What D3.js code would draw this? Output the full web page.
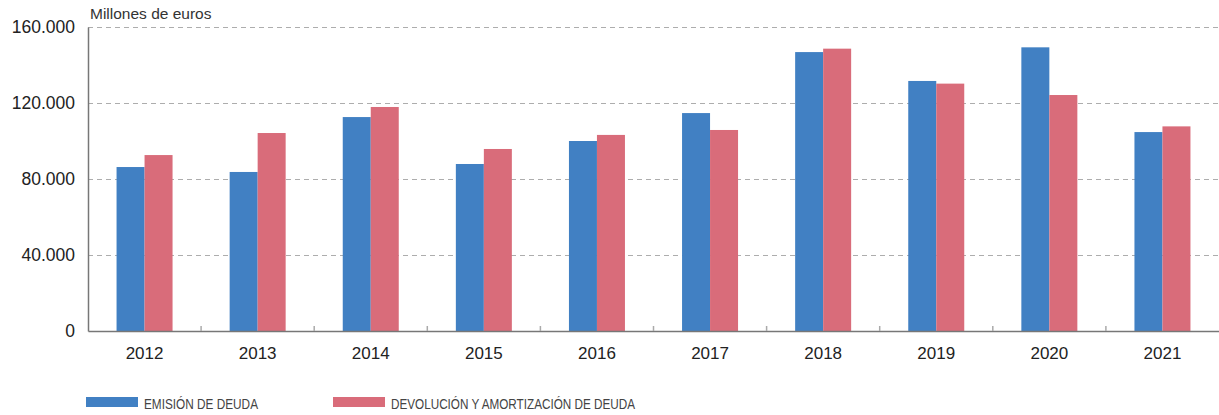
<!DOCTYPE html>
<html>
<head>
<meta charset="utf-8">
<script src="https://cdn.jsdelivr.net/npm/d3@7"></script>
<style>
  body { margin: 0; background: #fff; }
  svg { display: block; }
</style>
</head>
<body>
<div id="graph-container"></div>
<script>
const years = ["2012", "2013", "2014", "2015", "2016", "2017", "2018", "2019", "2020", "2021"];
const emision = [86300, 83700, 112600, 87900, 100000, 114700, 146800, 131600, 149300, 104700];
const devolucion = [92600, 104200, 117900, 95800, 103200, 105800, 148600, 130200, 124200, 107700];
const seriesNames = ["EMISIÓN DE DEUDA", "DEVOLUCIÓN Y AMORTIZACIÓN DE DEUDA"];
const seriesColors = ["#4180c3", "#d96c7a"];
const yTicks = [0, 40000, 80000, 120000, 160000];

const width = 1219;
const height = 415;
const marginTop = 27;
const marginRight = 0;
const marginBottom = 84;
const marginLeft = 88;

const svg = d3.select("#graph-container").append("svg")
    .attr("width", width)
    .attr("height", height)
    .attr("style", "font-family: 'Liberation Sans', Arial, sans-serif;");

const x = d3.scaleBand()
    .domain(years)
    .range([marginLeft, width - marginRight]);

const y = d3.scaleLinear()
    .domain([0, 160000])
    .range([height - marginBottom, marginTop]);

const fmt = d => d === 0 ? "0" : d3.format(",")(d).replace(/,/g, ".");

// Grid
svg.append("g")
    .selectAll("line")
    .data(yTicks.filter(d => d > 0))
    .join("line")
    .attr("x1", marginLeft)
    .attr("x2", width - marginRight)
    .attr("y1", d => y(d) + 0.5)
    .attr("y2", d => y(d) + 0.5)
    .attr("stroke", "#adadad")
    .attr("stroke-width", 1)
    .attr("stroke-dasharray", "5,4");

// Bars
const barW = 28;
const groups = svg.append("g")
    .selectAll("g")
    .data(years)
    .join("g")
    .attr("transform", d => `translate(${x(d) + x.bandwidth() / 2 - barW},0)`);

[emision, devolucion].forEach((vals, k) => {
    groups.append("rect")
        .attr("x", k * barW)
        .attr("y", (d, i) => y(vals[i]))
        .attr("width", barW)
        .attr("height", (d, i) => y(0) - y(vals[i]))
        .attr("fill", seriesColors[k]);
});

// Y axis
const yAxis = svg.append("g")
    .attr("transform", `translate(${marginLeft},0)`)
    .call(d3.axisLeft(y).tickValues(yTicks).tickFormat(fmt).tickSize(0).tickPadding(13))
    .call(g => g.select(".domain").attr("stroke", "#777").attr("stroke-width", 1.5));
yAxis.selectAll("text")
    .attr("font-size", 17.5)
    .attr("font-family", "'Liberation Sans', Arial, sans-serif")
    .attr("fill", "#222");

// X axis
const xAxis = svg.append("g")
    .attr("transform", `translate(0,${y(0)})`)
    .call(d3.axisBottom(x).tickSize(0).tickPadding(16))
    .call(g => g.select(".domain").attr("stroke", "#777").attr("stroke-width", 1.5));
xAxis.selectAll("text")
    .attr("font-size", 17)
    .attr("font-family", "'Liberation Sans', Arial, sans-serif")
    .attr("fill", "#222");

// band separators
svg.append("g")
    .selectAll("line")
    .data(years.slice(1))
    .join("line")
    .attr("x1", d => x(d))
    .attr("x2", d => x(d))
    .attr("y1", y(0))
    .attr("y2", y(0) - 5)
    .attr("stroke", "#aaa")
    .attr("stroke-width", 1.5);

// Unit label
svg.append("text")
    .attr("x", marginLeft + 2)
    .attr("y", 19)
    .attr("font-size", 15.5)
    .attr("fill", "#333")
    .text("Millones de euros");

// Legend
const legendX = [86, 333];
const legendLen = [114, 244];
const legend = svg.append("g")
    .selectAll("g")
    .data(seriesNames)
    .join("g")
    .attr("transform", (d, i) => `translate(${legendX[i]},397)`);

legend.append("rect")
    .attr("width", 52)
    .attr("height", 10)
    .attr("fill", (d, i) => seriesColors[i]);

legend.append("text")
    .attr("x", 58)
    .attr("y", 11.5)
    .attr("font-size", 15.5)
    .attr("textLength", (d, i) => legendLen[i])
    .attr("lengthAdjust", "spacingAndGlyphs")
    .attr("fill", "#444")
    .text(d => d);
</script>
</body>
</html>
